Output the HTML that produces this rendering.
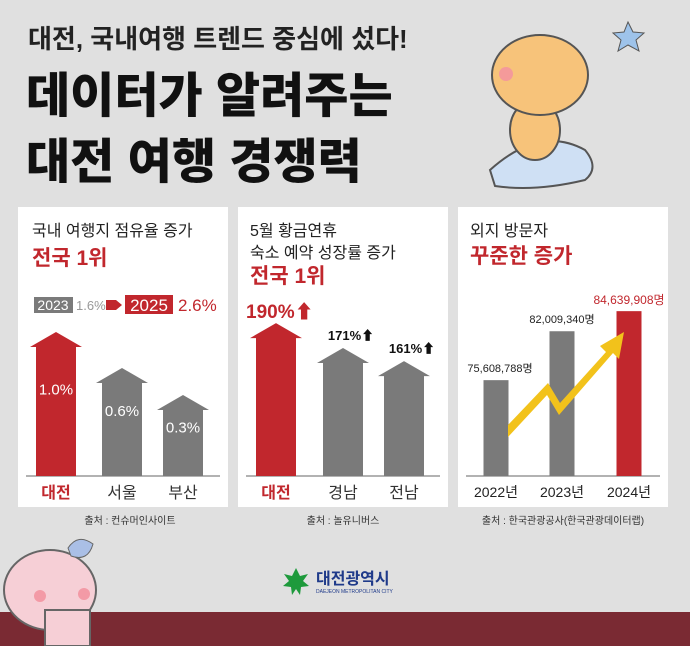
<!DOCTYPE html>
<html><head><meta charset="utf-8">
<style>
html,body{margin:0;padding:0;width:690px;height:646px;overflow:hidden;background:#e2e2e2;}
svg{display:block;font-family:"Liberation Sans","Noto Sans CJK KR",sans-serif;}
</style></head>
<body>
<svg id="c" width="690" height="646" viewBox="0 0 690 646">
<rect width="690" height="646" fill="#e0e0e0"/>
<rect x="0" y="612" width="690" height="34" fill="#7a2a33"/>
<text x="28" y="48" font-size="26" font-weight="bold" fill="#222">대전, 국내여행 트렌드 중심에 섰다!</text>
<text x="26" y="112" font-size="48" font-weight="900" fill="#111">데이터가 알려주는</text>
<text x="26" y="178" font-size="48" font-weight="900" fill="#111">대전 여행 경쟁력</text>
<g>
<path d="M490 170 Q540 125 585 150 Q600 168 585 180 Q535 192 495 186 Z" fill="#cfe0f4" stroke="#555" stroke-width="2"/>
<ellipse cx="535" cy="130" rx="25" ry="30" fill="#f7c37a" stroke="#555" stroke-width="2"/>
<ellipse cx="540" cy="75" rx="48" ry="40" fill="#f7c37a" stroke="#555" stroke-width="2"/>
<circle cx="506" cy="74" r="7" fill="#f49a9a"/>
<path d="M628 22 l5 10 11 1 -8 7 3 11 -11 -6 -10 6 3 -11 -8 -7 11 -1z" fill="#9ec3ea" stroke="#555"/>
</g>
<g>
<ellipse cx="50" cy="590" rx="46" ry="40" fill="#f6cfd6" stroke="#666" stroke-width="2"/>
<rect x="45" y="610" width="45" height="36" fill="#f6cfd6" stroke="#666" stroke-width="2"/>
<path d="M68 548 q10 -15 25 -4 q-5 18 -22 12z" fill="#aabfe6" stroke="#666"/>
<circle cx="40" cy="596" r="6" fill="#f39aa6"/><circle cx="84" cy="594" r="6" fill="#f39aa6"/>
</g>
<g id="panels"></g>
<text x="130" y="524" font-size="10" fill="#333" text-anchor="middle">출처 : 컨슈머인사이트</text>
<text x="343" y="524" font-size="10" fill="#333" text-anchor="middle">출처 : 놀유니버스</text>
<text x="563" y="524" font-size="10" fill="#333" text-anchor="middle">출처 : 한국관광공사(한국관광데이터랩)</text>
<g>
<path d="M296 568 l4 8 8 -2 -5 7 6 5 -8 1 -1 8 -4 -6 -4 6 -1 -8 -8 -1 6 -5 -5 -7 8 2z" fill="#1e9a3c"/>
<text x="316" y="584" font-size="16" font-weight="bold" fill="#1f3a8a">대전광역시</text>
<text x="316" y="593" font-size="5" fill="#1f3a8a">DAEJEON METROPOLITAN CITY</text>
</g>
</svg>
<script>
const cats1=["대전","서울","부산"];
const vals1=[1.0,0.6,0.3];
const labels1=["1.0%","0.6%","0.3%"];
const cats2=["대전","경남","전남"];
const vals2=[190,171,161];
const labels2=["190%","171%","161%"];
const cats3=["2022년","2023년","2024년"];
const vals3=[75608788,82009340,84639908];
const labels3=["75,608,788명","82,009,340명","84,639,908명"];
const NS="http://www.w3.org/2000/svg";
const root=document.getElementById('panels');
function mk(t,a,p){const e=document.createElementNS(NS,t);for(const k in a)e.setAttribute(k,a[k]);(p||root).appendChild(e);return e;}
function txt(x,y,s,size,fill,anchor,weight,name){const e=mk('text',{x:x,y:y,'font-size':size,fill:fill,'text-anchor':anchor||'start','font-weight':weight||'normal'});e.textContent=s;


return e;}
const RED="#c1272d",GRAY="#7a7a7a";
const px=[18,238,458];
px.forEach((x,i)=>{const r=mk('rect',{x:x,y:207,width:210,height:300,fill:'#fff'});


const l=mk('line',{x1:x+8,x2:x+202,y1:476,y2:476,stroke:'#999','stroke-width':1.5});

});
const base=476;
txt(32,236,"국내 여행지 점유율 증가",16,"#222","start","normal","panel1-title");
txt(32,265,"전국 1위",21,RED,"start","bold","panel1-highlight");
mk('rect',{x:34,y:297,width:39,height:16,fill:GRAY});
txt(53,310,"2023",14,"#fff","middle","normal","year-2023");
txt(76,310,"1.6%",13,"#999","start","normal","share-2023");
mk('path',{d:'M106 300 h10 l6 5 -6 5 h-10z',fill:RED});
mk('rect',{x:125,y:295,width:48,height:19,fill:RED});
txt(149,311,"2025",17,"#fff","middle","normal","year-2025");
txt(178,311,"2.6%",17,RED,"start","normal","share-2025");
function y1(v){return base-(54+v*90);}
const c1=[56,122,183];
vals1.forEach((v,i)=>{const t=y1(v),cx=c1[i],col=i==0?RED:GRAY;
const a=mk('path',{d:`M${cx-20} ${base} V${t+15} H${cx-26} L${cx} ${t} L${cx+26} ${t+15} H${cx+20} V${base}Z`,fill:col});


txt(cx,t+(base-t)*0.4+5,labels1[i],15,"#fff","middle","normal","value-"+cats1[i]);
txt(cx,498,cats1[i],16,i==0?RED:"#333","middle",i==0?"bold":"normal","category-"+cats1[i]);});
txt(250,236,"5월 황금연휴",16,"#222","start","normal","panel2-title1");
txt(250,258,"숙소 예약 성장률 증가",16,"#222","start","normal","panel2-title2");
txt(250,283,"전국 1위",21,RED,"start","bold","panel2-highlight");
function y2(v){return base-(35+(v-100)*1.31);}
const c2=[276,343,404];
vals2.forEach((v,i)=>{const t=y2(v),cx=c2[i],col=i==0?RED:GRAY;
const a=mk('path',{d:`M${cx-20} ${base} V${t+15} H${cx-26} L${cx} ${t} L${cx+26} ${t+15} H${cx+20} V${base}Z`,fill:col});


if(i==0) txt(246,t-5,labels2[i]+"⬆",19,RED,"start","bold","value-"+cats2[i]);
else txt(cx+8,t-8,labels2[i]+"⬆",13,"#111","middle","bold","value-"+cats2[i]);
txt(cx,498,cats2[i],16,i==0?RED:"#333","middle",i==0?"bold":"normal","category-"+cats2[i]);});
txt(470,236,"외지 방문자",16,"#222","start","normal","panel3-title");
txt(470,263,"꾸준한 증가",21,RED,"start","bold","panel3-highlight");
function y3(v){return base-(53+(v-70000000)*0.00000764);}
const c3=[496,562,629];
vals3.forEach((v,i)=>{const t=y3(v),cx=c3[i],col=i==2?RED:GRAY;
const b=mk('rect',{x:cx-12.5,y:t,width:25,height:base-t,fill:col});


txt(i==0?cx+4:cx,t-(i==2?7:8),labels3[i],i==2?12:11,i==2?RED:"#222","middle","normal","value-"+cats3[i]);
txt(cx,497,cats3[i],14,"#222","middle","normal","category-"+cats3[i]);});
const z=mk('path',{d:'M508 425 L548 383 L560 403 L606 352 L600 346 L624 332 L619 359 L613 353 L559 415 L547 395 L508 437Z',fill:'#f2c21b'});


</script>
</body></html>
